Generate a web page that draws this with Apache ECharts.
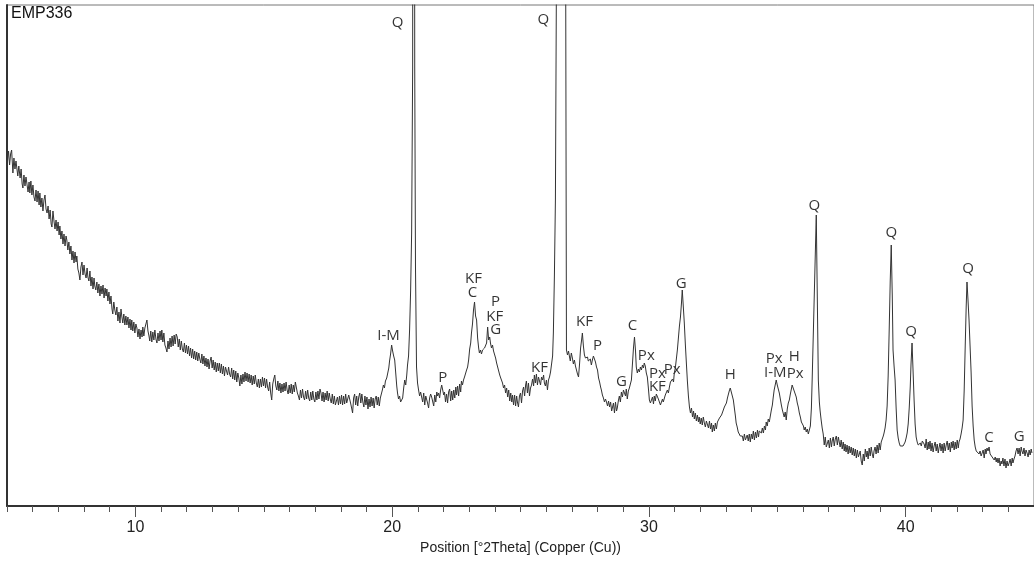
<!DOCTYPE html>
<html><head><meta charset="utf-8">
<script src="https://cdn.jsdelivr.net/npm/echarts@6/dist/echarts.min.js"></script>
<style>html,body{margin:0;padding:0;background:#fff}#c{width:1034px;height:565px}</style>
</head><body><div id="c"></div>
<script>
// Position [°2Theta]
const twoTheta = [
5.02,5.06,5.10,5.14,5.18,5.21,5.23,5.27,5.31,5.35,
5.38,5.42,5.46,5.51,5.55,5.59,5.62,5.66,5.70,5.74,
5.78,5.82,5.86,5.89,5.93,5.97,6.01,6.05,6.09,6.13,
6.17,6.21,6.25,6.28,6.32,6.36,6.40,6.44,6.48,6.52,
6.56,6.60,6.64,6.68,6.72,6.75,6.79,6.83,6.87,6.91,
6.95,6.99,7.03,7.06,7.10,7.14,7.18,7.22,7.26,7.30,
7.33,7.37,7.41,7.45,7.49,7.53,7.57,7.61,7.65,7.69,
7.72,7.76,7.80,7.84,7.88,7.92,7.96,8.00,8.04,8.08,
8.12,8.15,8.19,8.23,8.27,8.31,8.35,8.39,8.42,8.46,
8.50,8.54,8.58,8.62,8.66,8.70,8.74,8.78,8.82,8.86,
8.89,8.93,8.97,9.01,9.05,9.09,9.12,9.16,9.20,9.24,
9.28,9.32,9.36,9.40,9.44,9.47,9.51,9.55,9.59,9.63,
9.67,9.71,9.75,9.79,9.83,9.86,9.90,9.94,9.98,10.02,
10.06,10.10,10.14,10.18,10.22,10.26,10.29,10.33,10.37,10.41,
10.45,10.49,10.53,10.56,10.60,10.64,10.68,10.72,10.76,10.80,
10.84,10.88,10.92,10.96,11.00,11.03,11.07,11.11,11.15,11.19,
11.23,11.27,11.31,11.35,11.39,11.43,11.47,11.51,11.55,11.59,
11.63,11.67,11.71,11.75,11.79,11.83,11.87,11.91,11.95,11.99,
12.03,12.07,12.11,12.15,12.19,12.23,12.27,12.31,12.35,12.39,
12.43,12.47,12.51,12.55,12.59,12.63,12.67,12.71,12.75,12.79,
12.83,12.87,12.91,12.95,12.99,13.03,13.07,13.11,13.15,13.19,
13.23,13.27,13.31,13.35,13.39,13.43,13.47,13.51,13.55,13.59,
13.63,13.67,13.71,13.75,13.79,13.83,13.87,13.91,13.95,13.99,
14.03,14.07,14.11,14.15,14.19,14.23,14.27,14.31,14.35,14.39,
14.43,14.47,14.51,14.55,14.59,14.63,14.67,14.71,14.75,14.79,
14.83,14.87,14.91,14.95,14.99,15.03,15.07,15.11,15.15,15.19,
15.23,15.27,15.31,15.35,15.39,15.43,15.47,15.51,15.55,15.59,
15.63,15.67,15.71,15.75,15.79,15.83,15.87,15.91,15.95,15.99,
16.03,16.07,16.11,16.15,16.19,16.23,16.27,16.31,16.35,16.39,
16.43,16.47,16.51,16.55,16.59,16.63,16.67,16.71,16.75,16.79,
16.83,16.87,16.91,16.95,16.99,17.03,17.07,17.11,17.15,17.19,
17.23,17.27,17.31,17.35,17.39,17.43,17.47,17.51,17.55,17.59,
17.63,17.67,17.71,17.75,17.79,17.83,17.87,17.91,17.95,17.99,
18.03,18.07,18.11,18.15,18.19,18.23,18.27,18.31,18.35,18.39,
18.43,18.46,18.50,18.54,18.58,18.62,18.66,18.70,18.74,18.78,
18.82,18.86,18.90,18.94,18.98,19.02,19.06,19.10,19.14,19.18,
19.22,19.26,19.30,19.34,19.38,19.42,19.46,19.50,19.54,19.58,
19.62,19.66,19.70,19.74,19.79,19.83,19.87,19.90,19.94,19.98,
20.02,20.06,20.10,20.14,20.18,20.21,20.25,20.29,20.33,20.37,
20.41,20.45,20.49,20.53,20.57,20.60,20.64,20.68,20.72,20.76,
20.80,20.84,20.88,20.91,20.95,20.99,21.03,21.07,21.11,21.15,
21.19,21.23,21.27,21.31,21.34,21.38,21.42,21.46,21.50,21.54,
21.58,21.62,21.66,21.70,21.74,21.77,21.81,21.85,21.89,21.93,
21.97,22.01,22.04,22.08,22.12,22.16,22.20,22.24,22.28,22.32,
22.36,22.40,22.44,22.48,22.51,22.55,22.59,22.63,22.67,22.70,
22.74,22.78,22.82,22.86,22.90,22.94,22.98,23.02,23.06,23.09,
23.13,23.17,23.21,23.25,23.29,23.33,23.37,23.40,23.44,23.48,
23.52,23.56,23.60,23.64,23.68,23.72,23.76,23.80,23.83,23.87,
23.91,23.95,23.99,24.03,24.07,24.11,24.15,24.19,24.23,24.26,
24.30,24.34,24.38,24.42,24.46,24.50,24.54,24.58,24.62,24.66,
24.69,24.73,24.77,24.81,24.85,24.88,24.92,24.96,25.00,25.04,
25.08,25.12,25.16,25.20,25.23,25.27,25.31,25.35,25.39,25.43,
25.47,25.51,25.54,25.58,25.62,25.66,25.70,25.74,25.78,25.82,
25.86,25.90,25.93,25.97,26.01,26.05,26.09,26.13,26.17,26.21,
26.25,26.28,26.32,26.36,26.40,26.60,26.76,26.79,26.83,26.87,
26.91,26.94,26.98,27.02,27.06,27.10,27.14,27.18,27.22,27.26,
27.30,27.34,27.38,27.41,27.45,27.49,27.53,27.57,27.61,27.64,
27.68,27.72,27.76,27.80,27.84,27.88,27.92,27.96,28.00,28.04,
28.08,28.12,28.15,28.19,28.23,28.27,28.31,28.35,28.39,28.43,
28.47,28.51,28.55,28.58,28.62,28.66,28.70,28.74,28.77,28.81,
28.85,28.89,28.93,28.97,29.01,29.05,29.09,29.12,29.16,29.20,
29.24,29.28,29.32,29.36,29.40,29.44,29.48,29.51,29.55,29.59,
29.63,29.67,29.71,29.75,29.79,29.82,29.86,29.90,29.94,29.98,
30.02,30.06,30.10,30.14,30.18,30.21,30.25,30.29,30.33,30.37,
30.41,30.45,30.49,30.53,30.56,30.60,30.64,30.68,30.72,30.76,
30.80,30.84,30.88,30.92,30.96,30.99,31.03,31.07,31.11,31.15,
31.19,31.23,31.27,31.30,31.34,31.38,31.42,31.46,31.50,31.54,
31.58,31.62,31.66,31.70,31.74,31.77,31.81,31.85,31.89,31.93,
31.96,32.00,32.04,32.08,32.12,32.16,32.20,32.24,32.28,32.32,
32.36,32.40,32.44,32.47,32.51,32.55,32.59,32.63,32.67,32.71,
32.75,32.79,32.83,32.86,32.90,32.94,32.98,33.02,33.06,33.10,
33.13,33.17,33.21,33.25,33.29,33.33,33.37,33.40,33.44,33.48,
33.52,33.56,33.60,33.64,33.68,33.72,33.76,33.79,33.83,33.87,
33.91,33.95,33.99,34.03,34.07,34.11,34.15,34.19,34.23,34.27,
34.30,34.34,34.38,34.42,34.46,34.50,34.54,34.57,34.61,34.65,
34.69,34.73,34.77,34.81,34.84,34.88,34.92,34.96,35.00,35.04,
35.08,35.12,35.16,35.20,35.24,35.27,35.31,35.35,35.39,35.43,
35.47,35.51,35.55,35.58,35.62,35.66,35.70,35.74,35.78,35.82,
35.86,35.90,35.94,35.98,36.02,36.05,36.09,36.13,36.17,36.21,
36.25,36.29,36.33,36.36,36.52,36.60,36.64,36.67,36.71,36.75,
36.79,36.83,36.87,36.91,36.95,36.99,37.03,37.07,37.11,37.14,
37.18,37.22,37.26,37.30,37.34,37.38,37.41,37.45,37.49,37.53,
37.57,37.61,37.64,37.68,37.72,37.76,37.80,37.84,37.88,37.92,
37.96,38.00,38.04,38.08,38.12,38.16,38.19,38.23,38.27,38.31,
38.35,38.39,38.43,38.47,38.50,38.54,38.58,38.62,38.66,38.70,
38.74,38.77,38.81,38.85,38.89,38.93,38.97,39.01,39.05,39.09,
39.13,39.16,39.20,39.24,39.28,39.32,39.36,39.40,39.44,39.48,
39.51,39.55,39.59,39.63,39.67,39.71,39.75,39.79,39.82,39.86,
39.90,39.94,39.98,40.02,40.06,40.10,40.14,40.18,40.21,40.25,
40.29,40.33,40.37,40.41,40.45,40.49,40.53,40.57,40.61,40.65,
40.68,40.72,40.76,40.80,40.84,40.88,40.91,40.95,40.99,41.03,
41.07,41.11,41.15,41.19,41.23,41.27,41.30,41.34,41.38,41.42,
41.46,41.50,41.54,41.58,41.62,41.66,41.70,41.74,41.78,41.81,
41.85,41.89,41.93,41.97,42.01,42.05,42.08,42.12,42.16,42.20,
42.24,42.28,42.32,42.36,42.39,42.43,42.47,42.51,42.55,42.59,
42.63,42.67,42.71,42.75,42.78,42.82,42.86,42.90,42.94,42.98,
43.02,43.06,43.10,43.13,43.17,43.21,43.25,43.29,43.33,43.37,
43.41,43.45,43.49,43.53,43.56,43.60,43.64,43.68,43.72,43.75,
43.79,43.83,43.87,43.91,43.95,43.99,44.03,44.07,44.11,44.15,
44.18,44.22,44.26,44.30,44.34,44.38,44.42,44.46,44.50,44.53,
44.57,44.61,44.65,44.69,44.73,44.77,44.81,44.85,44.89,44.92
];
// Intensity (arbitrary counts)
const intensity = [
345,355,341,352,356,342,333,348,337,345,
343,330,340,328,337,322,318,331,320,329,
327,314,324,313,325,311,321,309,305,316,
304,315,301,313,299,308,295,306,311,297,
293,300,287,296,282,279,295,285,277,286,
275,284,271,280,267,275,262,272,260,270,
266,256,264,252,260,246,255,243,254,244,
250,237,233,226,239,244,231,241,232,228,
238,229,225,235,220,229,217,228,220,216,
224,213,222,210,220,212,221,208,218,210,
217,205,214,202,210,197,192,204,196,191,
199,185,194,183,197,190,183,192,181,190,
181,189,178,187,176,186,175,184,173,182,
178,169,177,167,176,169,179,170,178,182,
186,175,170,165,175,164,174,166,176,167,
163,173,165,175,166,176,164,173,161,158,
154,165,157,168,159,170,160,171,162,172,
169,159,167,156,165,157,154,163,153,161,
152,160,150,158,148,157,147,155,146,154,
145,153,147,143,152,142,150,140,148,139,
147,137,145,149,138,146,136,144,134,143,
135,143,133,142,132,140,130,139,141,131,
139,132,129,138,127,136,126,135,124,133,
128,120,131,122,132,124,134,125,133,124,
132,123,131,121,130,122,131,123,119,127,
118,127,119,129,120,128,118,127,119,115,
124,113,106,122,127,131,120,116,125,115,
123,113,122,114,123,115,124,116,112,121,
113,122,112,121,114,124,122,113,110,106,
116,108,117,109,106,115,107,116,108,105,
114,106,115,107,104,114,106,115,107,117,
113,105,114,104,113,106,115,105,113,107,
103,112,102,110,101,99,109,101,110,102,
111,101,110,102,112,103,101,111,113,102,
97,93,108,112,101,110,100,109,113,103,
112,104,99,110,101,109,97,107,99,109,
100,108,98,107,110,101,109,100,108,112,
116,121,118,125,128,133,138,145,152,161,
155,150,146,133,120,113,107,110,104,102,
108,118,126,121,131,141,150,176,215,273,
439,2000,439,239,139,123,116,110,114,113,
104,113,101,110,112,103,98,108,112,109,
110,100,111,104,114,110,113,108,116,121,
119,111,114,104,112,103,114,117,105,115,
106,116,108,119,111,120,110,122,114,125,
121,126,129,127,136,139,146,157,163,173,
182,196,204,190,186,168,158,153,156,152,
156,154,158,160,163,179,166,169,163,158,
161,155,156,148,143,139,135,131,128,126,
123,118,121,113,118,109,116,105,113,104,
111,101,111,100,110,104,99,110,113,103,
115,119,110,121,125,113,123,110,118,121,
127,120,131,123,132,121,129,130,121,129,
126,131,123,120,126,116,126,129,134,136,
150,173,230,306,530,3500,530,156,151,155,
149,145,153,148,142,146,140,136,132,129,
142,158,166,173,160,151,148,146,149,145,
143,147,141,146,150,149,144,139,136,128,
124,119,116,111,108,104,107,104,100,105,
99,104,95,94,103,93,104,95,98,105,
110,104,114,109,116,114,110,117,107,115,
118,122,126,142,158,169,155,139,133,137,
134,139,136,141,138,143,140,133,129,118,
106,103,101,109,102,110,105,112,112,107,
106,101,103,107,104,106,111,113,116,113,
119,124,123,127,124,133,138,147,156,168,
180,189,203,216,200,183,162,143,125,110,
99,93,98,89,95,87,93,85,91,84,
89,82,88,81,89,83,79,85,87,78,
85,77,83,74,81,75,83,77,84,86,
88,86,91,93,96,99,101,103,108,112,
115,118,114,110,106,98,90,83,79,74,
73,70,71,70,65,72,66,68,71,65,
72,64,72,67,75,66,74,68,76,69,
75,74,73,78,73,80,76,84,80,87,
84,90,96,101,108,116,121,126,121,117,
113,107,101,96,92,89,94,86,97,103,
106,112,117,121,119,115,112,109,103,99,
93,89,84,86,80,76,79,74,77,72,
73,80,98,126,291,126,104,95,86,78,
72,61,69,59,61,66,58,68,59,65,
69,60,67,70,61,69,67,59,66,57,
64,55,62,54,61,52,60,53,59,51,
58,50,57,48,56,49,47,55,45,41,
52,45,57,49,55,47,58,50,59,52,
48,55,59,52,61,53,63,56,64,66,
70,73,78,86,100,130,176,225,261,210,
156,140,126,98,76,68,63,60,59,62,
60,61,64,68,73,82,98,119,142,163,
135,106,82,69,64,61,59,63,60,65,
63,62,58,67,56,64,57,65,55,63,
54,60,64,55,62,53,58,63,55,62,
53,63,55,61,65,56,63,54,64,58,
65,56,64,57,66,58,64,67,72,78,
86,115,159,200,224,206,186,160,134,100,
80,66,59,55,53,56,52,55,50,51,
56,48,57,52,58,55,59,52,54,49,
50,46,49,44,48,43,48,40,45,42,
48,40,47,38,45,40,43,47,40,48,
43,47,50,55,58,52,58,50,59,55,
52,58,50,56,53,49,56,51,57,53
];
const majorTicks = [10, 20, 30, 40];
// Phase labels
const peakText = ['Q','Q','I-M','P','KF','C','P','KF','G','KF','KF','P','G','C','Px','Px','KF','Px','G','H','Px','I-M','H','Px','Q','Q','Q','Q','C','G'];
const peakX = [20.21,25.89,19.86,21.97,23.17,23.13,24.03,24.00,24.03,25.74,27.49,28.00,28.93,29.36,29.90,30.33,30.33,30.91,31.26,33.17,34.88,34.92,35.66,35.70,36.44,39.44,40.21,42.43,43.25,44.42];
const peakY = [483,486,170,128,227,213,204,189,176,138,184,160,124,180,150,132,119,136,222,131,147,133,149,132,300,273,174,237,68,69];

const chart = echarts.init(document.getElementById('c'));
chart.setOption({
  animation: false,
  title: {text: 'EMP336', left: 11, top: 6, padding: 0,
    textStyle: {fontSize: 16, fontWeight: 'normal', color: '#111', fontFamily: 'Liberation Sans, Arial'}},
  grid: {left: 7, top: 5, width: 1028, height: 501, show: true, borderColor: '#777', borderWidth: 1},
  xAxis: [
    {type: 'value', min: 5, max: 45, position: 'bottom',
     axisLine: {show: true, lineStyle: {color: '#333', width: 2}},
     axisTick: {show: true, customValues: majorTicks, length: 11, lineStyle: {color: '#555'}},
     axisLabel: {customValues: majorTicks, fontSize: 16, color: '#222', margin: 14, fontFamily: 'Liberation Sans, Arial'},
     splitLine: {show: false},
     name: 'Position [°2Theta] (Copper (Cu))', nameLocation: 'middle', nameGap: 35,
     nameTextStyle: {fontSize: 14, color: '#222', fontFamily: 'Liberation Sans, Arial'}},
    {type: 'value', min: 5, max: 45, interval: 1, position: 'bottom',
     axisLine: {show: false}, axisTick: {show: true, length: 6, lineStyle: {color: '#555'}},
     axisLabel: {show: false}, splitLine: {show: false}}
  ],
  yAxis: {type: 'value', min: 0, max: 501,
    axisLine: {show: true, lineStyle: {color: '#333', width: 2}},
    axisTick: {show: false}, axisLabel: {show: false}, splitLine: {show: false}},
  series: [
    {type: 'line', xAxisIndex: 0, data: twoTheta.map((x, i) => [x, intensity[i]]),
     showSymbol: false, clip: true, lineStyle: {color: '#333', width: 1}, silent: true},
    {type: 'scatter', xAxisIndex: 0, symbolSize: 0, silent: true,
     data: peakX.map((x, i) => [x, peakY[i]]),
     label: {show: true, position: 'inside', formatter: p => peakText[p.dataIndex],
       fontSize: 15, color: '#000', fontFamily: 'Open Sans'}}
  ]
});
</script>
</body></html>
